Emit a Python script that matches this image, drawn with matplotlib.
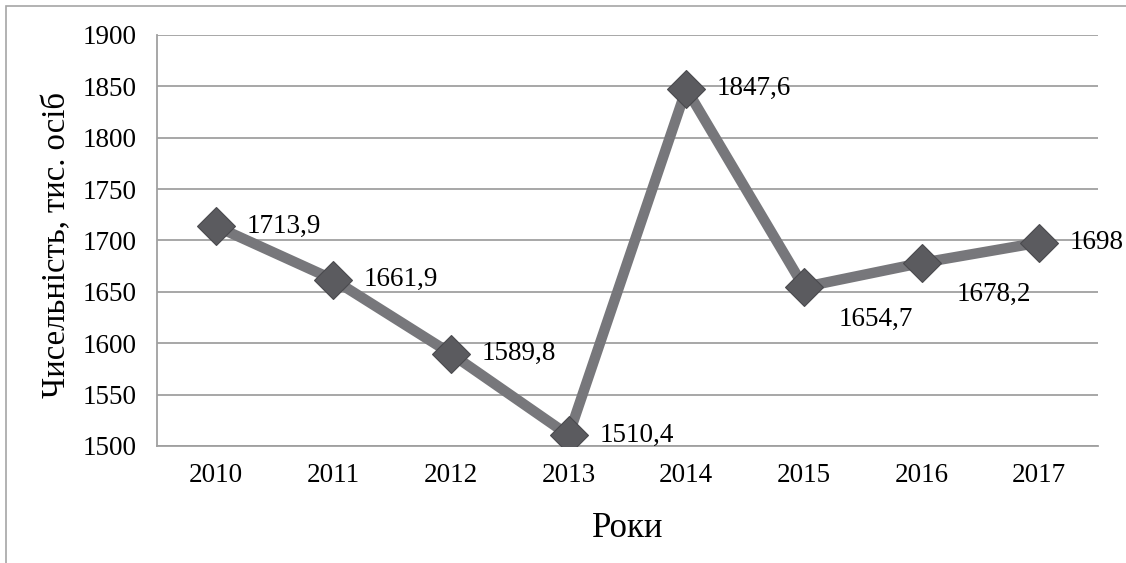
import matplotlib.pyplot as plt
from matplotlib.patches import Rectangle

plt.rcParams['font.family'] = ['Liberation Serif', 'DejaVu Serif']

# дані
years = ['2010', '2011', '2012', '2013', '2014', '2015', '2016', '2017']
values = [1713.9, 1661.9, 1589.8, 1510.4, 1847.6, 1654.7, 1678.2, 1698]
labels = ['1713,9', '1661,9', '1589,8', '1510,4', '1847,6', '1654,7', '1678,2', '1698']
# підписи 2015 і 2016 стоять праворуч-знизу
below = [False, False, False, False, False, True, True, False]

fig = plt.figure(figsize=(11.26, 5.63), dpi=100)
# рамка області діаграми
fig.patches.append(Rectangle((6/1126, -0.1), 1.2, 1 - 6/563 + 0.1,
                             transform=fig.transFigure, fill=False,
                             edgecolor='#a6a6a6', linewidth=1.2))

ax = fig.add_axes([157/1126, 1 - 446/563, 941/1126, 411/563])
x = list(range(len(years)))
ax.plot(x, values, color='#77777b', linewidth=7.5, zorder=3,
        solid_joinstyle='miter')
ax.plot(x, values, linestyle='none', marker='D', markersize=19,
        markerfacecolor='#5b5b5f', markeredgecolor='#4a4a4e',
        markeredgewidth=0.8, zorder=4)

for xi, v, lab, b in zip(x, values, labels, below):
    if b:
        ax.annotate(lab, (xi, v), xytext=(25, -23), textcoords='offset points',
                    fontsize=19.5, ha='left', va='center', zorder=5)
    else:
        ax.annotate(lab, (xi, v), xytext=(22, 0), textcoords='offset points',
                    fontsize=19.5, ha='left', va='center', zorder=5)

ax.set_xlim(-0.5, 7.5)
ax.set_ylim(1500, 1900)
ax.set_yticks(range(1500, 1901, 50))
ax.set_xticks(x)
ax.set_xticklabels(years)
ax.tick_params(axis='both', length=0, labelsize=19.5)
ax.tick_params(axis='y', pad=15)
ax.tick_params(axis='x', pad=12)
ax.grid(axis='y', color='#a0a0a0', linewidth=1.3, zorder=0)
for s in ['top', 'right']:
    ax.spines[s].set_visible(False)
ax.spines['left'].set_color('#a0a0a0')
ax.spines['bottom'].set_color('#a0a0a0')
ax.spines['left'].set_linewidth(1.3)
ax.spines['bottom'].set_linewidth(1.3)

ax.set_xlabel('Роки', fontsize=25)
ax.xaxis.set_label_coords(0.5, -0.16)
ax.set_ylabel('Чисельність, тис. осіб', fontsize=23.5)
ax.yaxis.set_label_coords(-0.09, 0.49)

plt.savefig('out.png', dpi=100)
